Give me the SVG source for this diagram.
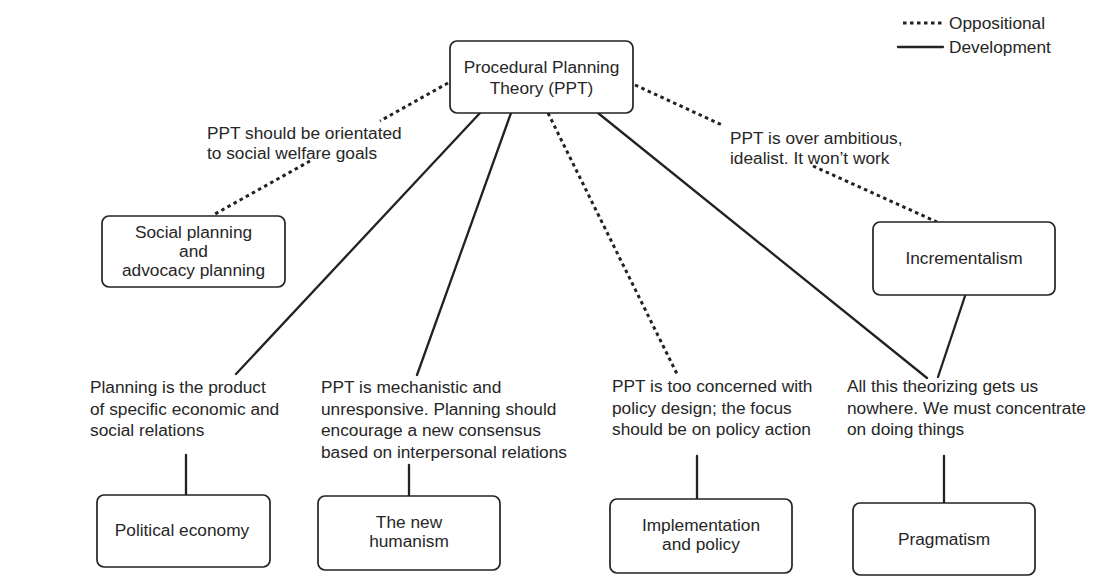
<svg xmlns="http://www.w3.org/2000/svg" width="1093" height="588" viewBox="0 0 1093 588">
<style>
text{font-family:"Liberation Sans",Arial,Helvetica,sans-serif;font-size:17.3px;fill:#262626}
.c{text-anchor:middle}
.box{fill:#fff;stroke:#222;stroke-width:1.7}
.dev{stroke:#222;stroke-width:2.3;fill:none;stroke-linecap:round}
.opp{stroke:#222;stroke-width:3;fill:none;stroke-dasharray:3.5 3.5}
</style>
<rect width="1093" height="588" fill="#fff"/>
<g id="legend">
<line x1="903" y1="23" x2="943" y2="23" class="opp" stroke-dasharray="5 3.5"/>
<text x="949" y="29">Oppositional</text>
<line x1="898" y1="47" x2="943" y2="47" class="dev"/>
<text x="949" y="53">Development</text>
</g>
<g id="connectors">
<line x1="448" y1="83" x2="380" y2="121" class="opp"/>
<line x1="310" y1="161" x2="215" y2="214" class="opp"/>
<line x1="635" y1="85" x2="722" y2="125" class="opp"/>
<line x1="813" y1="166" x2="937" y2="222" class="opp"/>
<line x1="480" y1="113" x2="236" y2="374" class="dev"/>
<line x1="511" y1="113" x2="417" y2="375" class="dev"/>
<line x1="548" y1="113" x2="678" y2="376" class="opp"/>
<line x1="598" y1="113" x2="927" y2="378" class="dev"/>
<line x1="965" y1="296" x2="938" y2="377" class="dev"/>
<line x1="186" y1="455" x2="186" y2="495" class="dev"/>
<line x1="409" y1="465" x2="409" y2="496" class="dev"/>
<line x1="697" y1="456" x2="697" y2="499" class="dev"/>
<line x1="944" y1="456" x2="944" y2="503" class="dev"/>
</g>
<g id="labels">
<text x="207" y="139">PPT should be orientated</text>
<text x="207" y="159">to social welfare goals</text>
<text x="730" y="144">PPT is over ambitious,</text>
<text x="730" y="164">idealist. It won’t work</text>
<text x="90" y="393">Planning is the product</text>
<text x="90" y="414.5">of specific economic and</text>
<text x="90" y="436">social relations</text>
<text x="321" y="393">PPT is mechanistic and</text>
<text x="321" y="414.5">unresponsive. Planning should</text>
<text x="321" y="436">encourage a new consensus</text>
<text x="321" y="457.5">based on interpersonal relations</text>
<text x="612" y="392">PPT is too concerned with</text>
<text x="612" y="413.5">policy design; the focus</text>
<text x="612" y="435">should be on policy action</text>
<text x="847" y="392">All this theorizing gets us</text>
<text x="847" y="413.5">nowhere. We must concentrate</text>
<text x="847" y="435">on doing things</text>
</g>
<g id="ppt">
<rect x="450" y="41" width="183" height="72" rx="7" class="box"/>
<text x="541.5" y="73" class="c">Procedural Planning</text>
<text x="541.5" y="94" class="c">Theory (PPT)</text>
</g>
<g id="social">
<rect x="102" y="216" width="183" height="71" rx="7" class="box"/>
<text x="193.5" y="238" class="c">Social planning</text>
<text x="193.5" y="257" class="c">and</text>
<text x="193.5" y="276" class="c">advocacy planning</text>
</g>
<g id="incrementalism">
<rect x="873" y="222" width="182" height="73" rx="7" class="box"/>
<text x="964" y="264" class="c">Incrementalism</text>
</g>
<g id="political">
<rect x="97" y="495" width="173" height="72" rx="7" class="box"/>
<text x="182" y="536" class="c">Political economy</text>
</g>
<g id="humanism">
<rect x="318" y="496" width="182" height="74" rx="7" class="box"/>
<text x="409" y="528" class="c">The new</text>
<text x="409" y="547" class="c">humanism</text>
</g>
<g id="implementation">
<rect x="610" y="499" width="182" height="74" rx="7" class="box"/>
<text x="701" y="531" class="c">Implementation</text>
<text x="701" y="550" class="c">and policy</text>
</g>
<g id="pragmatism">
<rect x="853" y="503" width="182" height="72" rx="7" class="box"/>
<text x="944" y="545" class="c">Pragmatism</text>
</g>
</svg>
